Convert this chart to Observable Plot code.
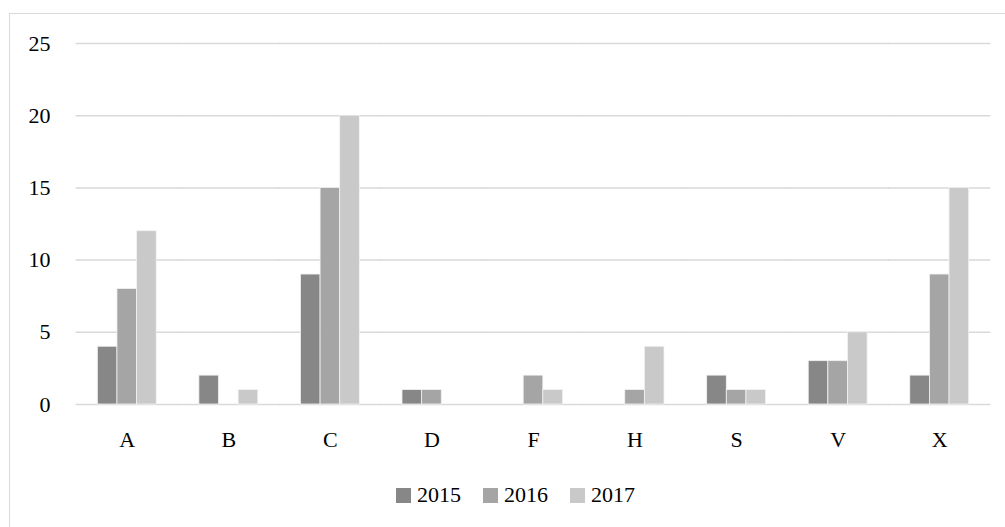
<!DOCTYPE html>
<html><head><meta charset="utf-8">
<script src="https://cdn.jsdelivr.net/npm/d3@7"></script>
<script src="https://cdn.jsdelivr.net/npm/@observablehq/plot@0.6"></script>
<style>
body{margin:0;background:#fff;}
#wrap{position:relative;width:1005px;height:527px;overflow:hidden;font-family:"Liberation Serif","DejaVu Serif",serif;background:#fff;}
#frame{position:absolute;left:9px;top:13px;width:1030px;height:540px;border:1.5px solid #d9d9d9;box-sizing:border-box;}
#chart{position:absolute;left:0;top:0;}
#legend{position:absolute;top:482px;left:396px;display:flex;align-items:center;gap:22px;font-size:22px;color:#000;font-family:"Liberation Serif","DejaVu Serif",serif;}
#legend .item{display:flex;align-items:center;gap:6px;}
#legend .sw{width:15px;height:15px;display:inline-block;}
</style>
</head><body>
<div id="wrap"><div id="frame"></div><div id="chart"></div><div id="legend"></div></div>
<script>
const categories = ["A","B","C","D","F","H","S","V","X"];
const years = ["2015","2016","2017"];
const v2015 = [4,2,9,1,0,0,2,3,2];
const v2016 = [8,0,15,1,2,1,1,3,9];
const v2017 = [12,1,20,0,1,4,1,5,15];
const colors = ["#878787","#a5a5a5","#c9c9c9"];
const yTicks = [0,5,10,15,20,25];

const series = [v2015, v2016, v2017];
const data = categories.flatMap((c,i)=>years.map((y,j)=>({cat:c, year:y, value:series[j][i]})))
  .filter(d=>d.value>0);

const W = 1005, ML = 76, MR = 15, PAD = 0.42;
const halfGap = ((W - ML - MR) / categories.length) * PAD / 2;
const FONT = "'Liberation Serif', 'DejaVu Serif', serif";

const chart = Plot.plot({
  width:W, height:470,
  marginLeft:ML, marginRight:MR, marginTop:43, marginBottom:66,
  style:{fontFamily:FONT, fontSize:"22px", color:"#000", background:"transparent"},
  fx:{domain:categories, paddingInner:PAD, paddingOuter:PAD/2, round:false, axis:null},
  x:{domain:years, padding:0, round:false, axis:null},
  y:{domain:[0,25], axis:null},
  color:{domain:years, range:colors},
  marks:[
    Plot.ruleY(yTicks, {stroke:"#d9d9d9", strokeWidth:1.5, insetLeft:-halfGap-0.5, insetRight:-halfGap-0.5}),
    Plot.barY(data, {fx:"cat", x:"year", y:"value", fill:"year", stroke:"#f2f2f2", strokeWidth:0.8}),
    Plot.axisY({ticks:yTicks, tickSize:0, tickPadding:26 + halfGap, label:null, fontSize:22, fontFamily:FONT}),
    Plot.axisFx({anchor:"bottom", tickSize:0, tickPadding:27, label:null, fontSize:22, fontFamily:FONT})
  ]
});
document.getElementById("chart").appendChild(chart);

const lg = document.getElementById("legend");
years.forEach((y,j)=>{
  const it = document.createElement("div"); it.className="item";
  const sw = document.createElement("span"); sw.className="sw"; sw.style.background=colors[j];
  const t = document.createElement("span"); t.textContent=y;
  it.appendChild(sw); it.appendChild(t); lg.appendChild(it);
});
</script>
</body></html>
